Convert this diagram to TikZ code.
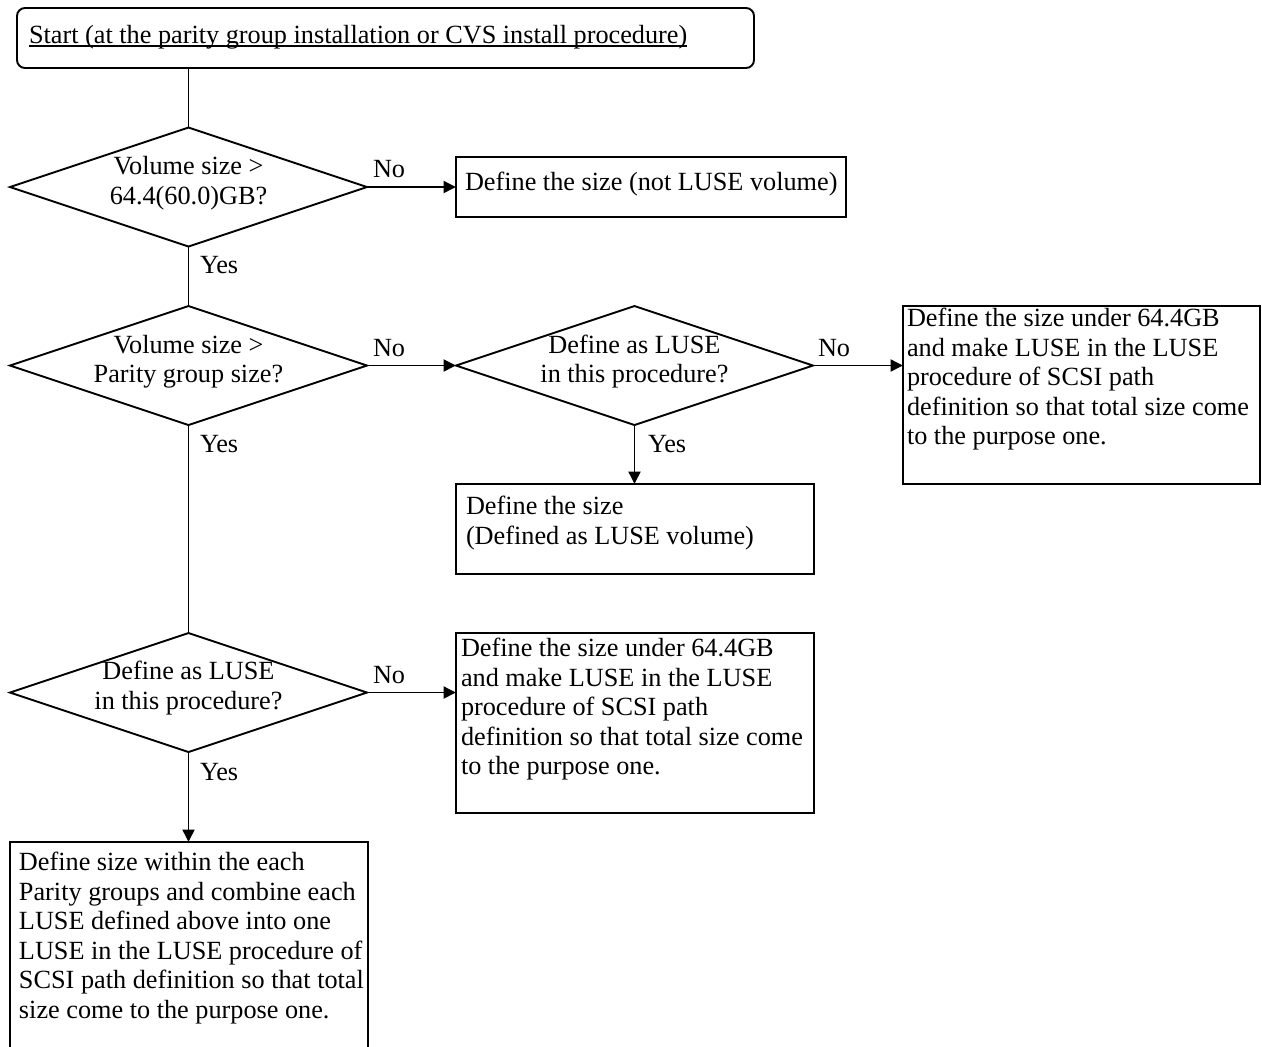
\documentclass[tikz,border=0pt]{standalone}
\usepackage{fontspec}
\setmainfont{Liberation Serif}
\usetikzlibrary{shapes.geometric,arrows.meta}

\newcommand{\flowfont}{\fontsize{26.25}{29.5}\selectfont}
% fixed first-line height so that the top of every text block sits 20.65pt above its first baseline
\newcommand{\firstline}{\rule{0pt}{20.65pt}}

\begin{document}
\begin{tikzpicture}[x=1pt,y=-1pt,line width=1.9pt,
  every node/.style={inner sep=0pt,outer sep=0pt},
  decision/.style={draw,diamond,minimum width=357,minimum height=119},
  stepbox/.style={draw,rectangle},
  txt/.style={font=\flowfont,align=left,anchor=north west,execute at begin node=\firstline},
  ctxt/.style={font=\flowfont,align=center,anchor=north,execute at begin node=\firstline},
  lbl/.style={font=\flowfont,anchor=base west},
  flow/.style={-{Triangle[length=12.5pt,width=12pt]}}]
\useasboundingbox (0,0) rectangle (1262,1047);

% start terminal
\node[draw,rounded corners=8pt,minimum width=737,minimum height=60] (start) at (385.5,38) {};
\node[lbl] (starttext) at (29,43) {Start (at the parity group installation or CVS install procedure)};
\draw[line width=1.2pt] ([yshift=-3pt]starttext.base west) -- ([yshift=-3pt]starttext.base east);

% decisions
\node[decision] (d1) at (188.5,187) {};
\node[ctxt] (d1t) at (188.5,156.35) {Volume size >\\64.4(60.0)GB?};
\node[decision] (d2) at (188.5,365.5) {};
\node[ctxt] (d2t) at (188.5,334.85) {Volume size >\\Parity group size?};
\node[decision] (d3) at (634.5,365.5) {};
\node[ctxt] (d3t) at (634.5,334.85) {Define as LUSE\\in this procedure?};
\node[decision] (d4) at (188.5,692.5) {};
\node[ctxt] (d4t) at (188.5,661.35) {Define as LUSE\\in this procedure?};

% process boxes
\node[stepbox,minimum width=390,minimum height=60] (b1) at (651,187) {};
\node[txt] (b1t) at (465,169.35) {Define the size (not LUSE volume)};

\node[stepbox,minimum width=357,minimum height=178] (b2) at (1081.5,395) {};
\node[txt] (b2t) at (907,308.35) {Define the size under 64.4GB\\and make LUSE in the LUSE\\procedure of SCSI path\\definition so that total size come\\to the purpose one.};

\node[stepbox,minimum width=358,minimum height=90] (b3) at (635,529) {};
\node[txt] (b3t) at (466,496.35) {Define the size\\(Defined as LUSE volume)};

\node[stepbox,minimum width=358,minimum height=180] (b4) at (635,723) {};
\node[txt] (b4t) at (461,638.35) {Define the size under 64.4GB\\and make LUSE in the LUSE\\procedure of SCSI path\\definition so that total size come\\to the purpose one.};

\node[stepbox,minimum width=358,minimum height=208] (b5) at (189,946) {};
\node[txt] (b5t) at (19,852.35) {Define size within the each\\Parity groups and combine each\\LUSE defined above into one\\LUSE in the LUSE procedure of\\SCSI path definition so that total\\size come to the purpose one.};

% connectors
\draw (d1.north |- start.south) -- (d1.north);
\draw[flow] (d1.east) -- (b1.west);
\draw (d1.south) -- (d2.north);
\draw[flow] (d2.east) -- (d3.west);
\draw[flow] (d3.east) -- (d3.east -| b2.west);
\draw[flow] (d3.south) -- (d3.south |- b3.north);
\draw (d2.south) -- (d4.north);
\draw[flow] (d4.east) -- (d4.east -| b4.west);
\draw[flow] (d4.south) -- (d4.south |- b5.north);

% branch labels
\node[lbl] (no1) at (373,177) {No};
\node[lbl] (yes1) at (200,273) {Yes};
\node[lbl] (no2) at (373,356) {No};
\node[lbl] (yes2) at (200,452) {Yes};
\node[lbl] (no3) at (818,356) {No};
\node[lbl] (yes3) at (648,452) {Yes};
\node[lbl] (no4) at (373,683) {No};
\node[lbl] (yes4) at (200,780) {Yes};
\end{tikzpicture}
\end{document}
